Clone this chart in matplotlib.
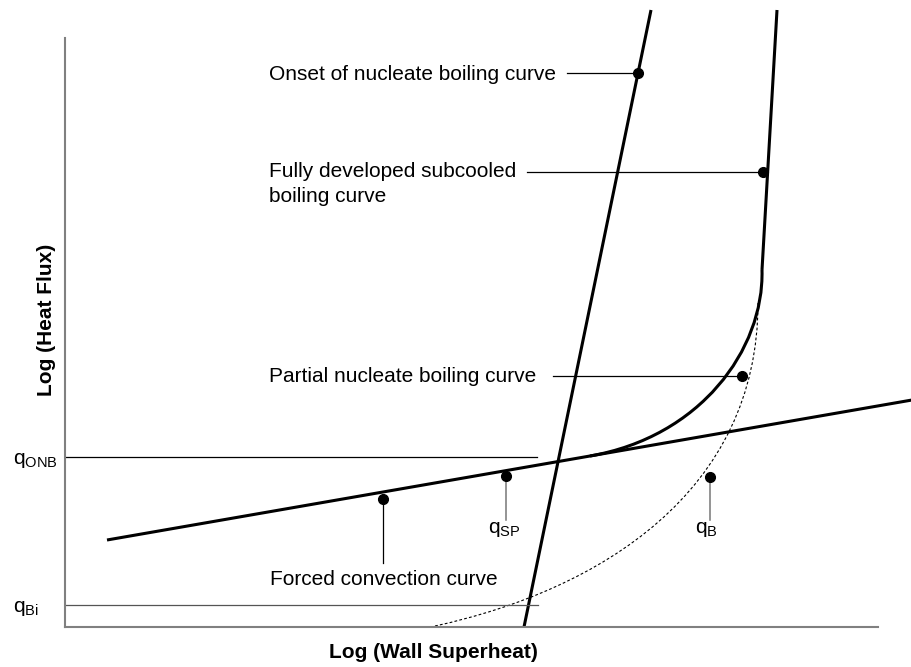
import matplotlib
matplotlib.use("Agg")
import matplotlib.pyplot as plt
from matplotlib.path import Path
from matplotlib.patches import PathPatch

plt.rcParams["font.family"] = ["Liberation Sans", "DejaVu Sans"]
plt.rcParams["mathtext.fontset"] = "custom"
plt.rcParams["mathtext.rm"] = "Liberation Sans"
plt.rcParams["mathtext.it"] = "Liberation Sans:italic"

# --- schematic curves (log wall superheat vs log heat flux, arbitrary units) ---
fc_x = [42, 847]            # forced convection line
fc_y = [87, 227]
onb_x = [459, 586]          # onset of nucleate boiling line
onb_y = [0, 617]
fd_x = [697, 712]           # fully developed subcooled boiling line
fd_y = [357, 617]
pnb_x = [525, 635, 699, 697]  # partial nucleate boiling (Bezier control points)
pnb_y = [171, 190, 277, 357]
qb_x = [370, 535, 693, 693]   # boiling heat flux q_B (Bezier control points)
qb_y = [1, 37, 135, 324]

q_onb_level = 170
q_bi_level = 22
q_onb_end = 472
q_bi_end = 473

# labelled points on the curves
onset_pt = (573, 554)
fd_pt = (698, 455)
pnb_pt = (677, 251)
fc_pt = (318, 128)
sp_pt = (441, 151)
b_pt = (645, 150)

W, H = 912, 667
fig = plt.figure(figsize=(W / 100, H / 100), dpi=100)
ax = fig.add_axes([65 / W, 40 / H, 813 / W, 589 / H])
ax.set_xlim(0, 813)
ax.set_ylim(0, 589)
for s in ("top", "right"):
    ax.spines[s].set_visible(False)
for s in ("left", "bottom"):
    ax.spines[s].set_color("#808080")
    ax.spines[s].set_linewidth(1.5)
ax.set_xticks([])
ax.set_yticks([])

lw_main = 2.2
ax.plot(fc_x, fc_y, color="black", lw=lw_main, clip_on=False, solid_capstyle="butt")
ax.plot(onb_x, onb_y, color="black", lw=lw_main, clip_on=False, solid_capstyle="butt")
ax.plot(fd_x, fd_y, color="black", lw=lw_main, clip_on=False, solid_capstyle="butt")

codes = [Path.MOVETO, Path.CURVE4, Path.CURVE4, Path.CURVE4]
ax.add_patch(PathPatch(Path(list(zip(pnb_x, pnb_y)), codes), facecolor="none",
                       edgecolor="black", lw=lw_main, clip_on=False))
ax.add_patch(PathPatch(Path(list(zip(qb_x, qb_y)), codes), facecolor="none",
                       edgecolor="black", lw=0.8, linestyle=(0, (2.5, 2)), clip_on=False))

# reference flux levels
ax.plot([0, q_onb_end], [q_onb_level] * 2, color="black", lw=0.9)
ax.plot([0, q_bi_end], [q_bi_level] * 2, color="#555555", lw=0.9)

# leader lines
lead = dict(color="black", lw=0.9)
ax.plot([502, onset_pt[0]], [onset_pt[1]] * 2, **lead)
ax.plot([462, fd_pt[0]], [fd_pt[1]] * 2, **lead)
ax.plot([488, pnb_pt[0]], [pnb_pt[1]] * 2, **lead)
ax.plot([fc_pt[0]] * 2, [64, fc_pt[1]], **lead)
ax.plot([sp_pt[0]] * 2, [107, sp_pt[1]], color="#777777", lw=1.1)
ax.plot([b_pt[0]] * 2, [107, b_pt[1]], color="#777777", lw=1.1)

for p in (onset_pt, fd_pt, pnb_pt, fc_pt, sp_pt, b_pt):
    ax.plot(*p, "o", color="black", ms=7, clip_on=False, zorder=5)

fs = 15
txt = dict(fontsize=fs, ha="left", va="baseline", color="black")
ax.text(204, 547, "Onset of nucleate boiling curve", **txt)
ax.text(204, 450, "Fully developed subcooled", **txt)
ax.text(204, 425, "boiling curve", **txt)
ax.text(204, 245, "Partial nucleate boiling curve", **txt)
ax.text(205, 42, "Forced convection curve", **txt)
ax.text(423, 94, r"q$_{\mathrm{SP}}$", **txt)
ax.text(630, 94, r"q$_{\mathrm{B}}$", **txt)
ax.text(-52, 163, r"q$_{\mathrm{ONB}}$", clip_on=False, **txt)
ax.text(-52, 15, r"q$_{\mathrm{Bi}}$", clip_on=False, **txt)

fig.text(433 / W, 1 - 658 / H, "Log (Wall Superheat)", fontsize=fs, fontweight="bold",
         ha="center", va="baseline")
fig.text(47 / W, 1 - 320 / H, "Log (Heat Flux)", fontsize=fs, fontweight="bold",
         ha="center", va="center", rotation=90)

fig.savefig("out.png", dpi=100)
